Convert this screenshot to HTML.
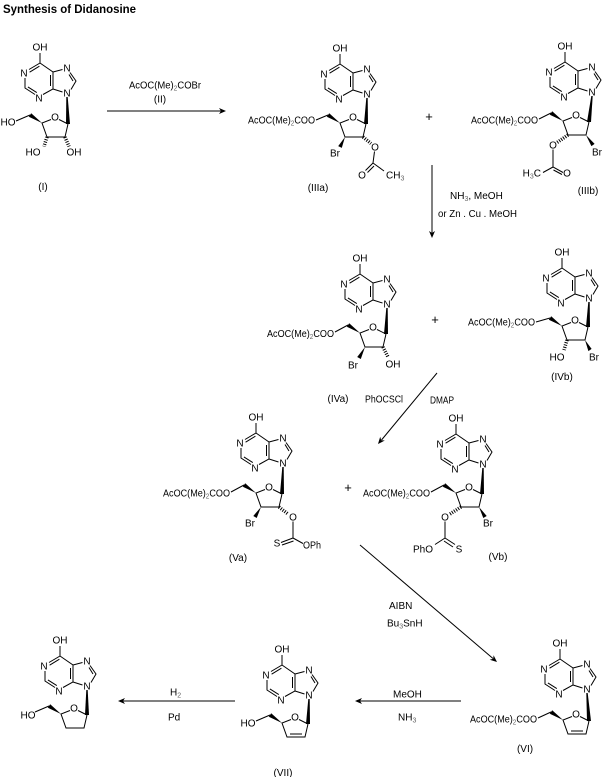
<!DOCTYPE html>
<html><head><meta charset="utf-8"><style>
html,body{margin:0;padding:0;background:#fff}
svg{display:block}
text{font-family:"Liberation Sans",Arial,sans-serif;font-size:10px;text-anchor:middle;fill:#000}
.s{text-anchor:start}.e{text-anchor:end}
path,line{stroke:#000;stroke-width:1;fill:none}
polygon{fill:#000;stroke:none}
.h{stroke-width:3.5;stroke-dasharray:1 1.4}
.sb{font-size:7px;fill:#666}
</style></head><body>
<svg width="609" height="777" viewBox="0 0 609 777" xmlns="http://www.w3.org/2000/svg">
<text x="3" y="13" class="s" style="font-weight:bold;font-size:11.5px" textLength="133" lengthAdjust="spacingAndGlyphs">Synthesis of Didanosine</text>

<!-- ===== I ===== -->
<g transform="translate(40,47)"><text y="3.5">OH</text><path d="M0,6V16L-11,22.5M-15,31V41L-5,47.5M3,47.5L13,42V25L0,16M-0.6,19.2L-10.4,25.2M-12.1,39.9L-3.2,45.6M10.5,28V39M13,25L22.5,22.5M30,25.5L36,34L31,42.5M29,27.5L33,34M22.5,45L13,42"/><text x="-16" y="29.5">N</text><text x="-1" y="54.5">N</text><text x="27" y="24.5">N</text><text x="27" y="49.5">N</text></g>
<g transform="translate(41,47)">
<polygon points="25.3,50 26.7,50 29,77 25,77"/>
<path d="M27,77L18,72.5M10,72.5L1,76L6,90H24L27,77"/><text x="14" y="73.5">O</text><polygon points="1,76 -9.8,66.2 -12.2,69.8"/>
<path d="M-11,68L-25,74"/><text x="-33" y="78.5">HO</text>
<line class="h" x1="6" y1="90" x2="3" y2="99.5"/><text x="-8" y="108.5">HO</text>
<line class="h" x1="24" y1="90" x2="28" y2="99.5"/><text x="33" y="108.5">OH</text>
</g>
<text x="43" y="190">(I)</text>

<!-- arrow 1 -->
<text x="165" y="88.5" textLength="72" lengthAdjust="spacingAndGlyphs">AcOC(Me)<tspan class="sb" dy="2">2</tspan><tspan dy="-2">COBr</tspan></text>
<text x="160" y="102.5">(II)</text>
<line x1="107" y1="111" x2="222" y2="111"/>
<polygon points="226,111 219,108 221,111 219,114"/>

<!-- ===== IIIa ===== -->
<g transform="translate(340,48)"><text y="3.5">OH</text><path d="M0,6V16L-11,22.5M-15,31V41L-5,47.5M3,47.5L13,42V25L0,16M-0.6,19.2L-10.4,25.2M-12.1,39.9L-3.2,45.6M10.5,28V39M13,25L22.5,22.5M30,25.5L36,34L31,42.5M29,27.5L33,34M22.5,45L13,42"/><text x="-16" y="29.5">N</text><text x="-1" y="54.5">N</text><text x="27" y="24.5">N</text><text x="27" y="49.5">N</text></g>
<g transform="translate(339,47)">
<polygon points="27.3,51 28.7,51 29,77 25,77"/>
<path d="M27,77L18,72.5M10,72.5L1,76L6,90H24L27,77"/><text x="14" y="73.5">O</text><polygon points="1,76 -9.8,66.2 -12.2,69.8"/>
<text x="-91" y="76.5" class="s" textLength="67" lengthAdjust="spacingAndGlyphs">AcOC(Me)<tspan class="sb" dy="2">2</tspan><tspan dy="-2">COO</tspan></text>
<path d="M-23,73L-11,68"/>
<polygon points="6,90 2.8,100.9 -0.8,99.1"/><text x="-4" y="109.5">Br</text>
<line class="h" x1="24" y1="90" x2="32" y2="96.5"/><text x="36" y="103.5">O</text>
<path d="M35.5,104.5L34,116L26.5,123.5M35,119L28.5,125.5M34,116L45,124"/>
<text x="23" y="131.5">O</text>
<text x="47" y="131.5" class="s">CH<tspan class="sb" dy="2">3</tspan></text>
</g>
<text x="318" y="191">(IIIa)</text>

<text x="429" y="121" style="font-size:13px">+</text>

<!-- ===== IIIb ===== -->
<g transform="translate(565,46)"><text y="3.5">OH</text><path d="M0,6V16L-11,22.5M-15,31V41L-5,47.5M3,47.5L13,42V25L0,16M-0.6,19.2L-10.4,25.2M-12.1,39.9L-3.2,45.6M10.5,28V39M13,25L22.5,22.5M30,25.5L36,34L31,42.5M29,27.5L33,34M22.5,45L13,42"/><text x="-16" y="29.5">N</text><text x="-1" y="54.5">N</text><text x="27" y="24.5">N</text><text x="27" y="49.5">N</text></g>
<g transform="translate(562,45)">
<polygon points="29.3,51 30.7,51 29,77 25,77"/>
<path d="M27,77L18,72.5M10,72.5L1,76L6,90H24L27,77"/><text x="14" y="73.5">O</text><polygon points="1,76 -9.8,66.2 -12.2,69.8"/>
<text x="-91" y="78.5" class="s" textLength="67" lengthAdjust="spacingAndGlyphs">AcOC(Me)<tspan class="sb" dy="2">2</tspan><tspan dy="-2">COO</tspan></text>
<path d="M-23,74L-11,68"/>
<polygon points="24,90 32.6,98.9 29.4,101.1"/><text x="35" y="110.5">Br</text>
<line class="h" x1="6" y1="90" x2="-5" y2="97.5"/><text x="-9" y="103.5">O</text>
<path d="M-9,104.5V122L1,127.5M-8.5,125L0,129.5M-9,122L-19,127.5"/>
<text x="5" y="131.5">O</text>
<text x="-21" y="131.5" class="e">H<tspan class="sb" dy="2">3</tspan><tspan dy="-2">C</tspan></text>
</g>
<text x="588" y="194">(IIIb)</text>

<!-- arrow 2 -->
<line x1="432" y1="165" x2="432" y2="234"/>
<polygon points="432,238 429,231 432,233 435,231"/>
<text x="450" y="199" class="s">NH<tspan class="sb" dy="2">3</tspan><tspan dy="-2">, MeOH</tspan></text>
<text x="438" y="217" class="s" textLength="79" lengthAdjust="spacingAndGlyphs">or Zn . Cu . MeOH</text>

<!-- ===== IVa ===== -->
<g transform="translate(360,258)"><text y="3.5">OH</text><path d="M0,6V16L-11,22.5M-15,31V41L-5,47.5M3,47.5L13,42V25L0,16M-0.6,19.2L-10.4,25.2M-12.1,39.9L-3.2,45.6M10.5,28V39M13,25L22.5,22.5M30,25.5L36,34L31,42.5M29,27.5L33,34M22.5,45L13,42"/><text x="-16" y="29.5">N</text><text x="-1" y="54.5">N</text><text x="27" y="24.5">N</text><text x="27" y="49.5">N</text></g>
<g transform="translate(359,257)">
<polygon points="27.3,51 28.7,51 29,77 25,77"/>
<path d="M27,77L18,72.5M10,72.5L1,76L6,90H24L27,77"/><text x="14" y="73.5">O</text><polygon points="1,76 -9.8,66.2 -12.2,69.8"/>
<text x="-92" y="80" class="s" textLength="67" lengthAdjust="spacingAndGlyphs">AcOC(Me)<tspan class="sb" dy="2">2</tspan><tspan dy="-2">COO</tspan></text>
<path d="M-24,75L-11,68"/>
<polygon points="6,90 1.8,102 -1.8,100"/><text x="-6" y="111.5">Br</text>
<line class="h" x1="24" y1="90" x2="29" y2="100"/><text x="34" y="110.5">OH</text>
</g>
<text x="338" y="402">(IVa)</text>

<text x="435" y="324" style="font-size:13px">+</text>

<!-- ===== IVb ===== -->
<g transform="translate(562,252)"><text y="3.5">OH</text><path d="M0,6V16L-11,22.5M-15,31V41L-5,47.5M3,47.5L13,42V25L0,16M-0.6,19.2L-10.4,25.2M-12.1,39.9L-3.2,45.6M10.5,28V39M13,25L22.5,22.5M30,25.5L36,34L31,42.5M29,27.5L33,34M22.5,45L13,42"/><text x="-16" y="29.5">N</text><text x="-1" y="54.5">N</text><text x="27" y="24.5">N</text><text x="27" y="49.5">N</text></g>
<g transform="translate(561,250)">
<polygon points="27.3,52 28.7,52 29,77 25,77"/>
<path d="M27,77L18,72.5M10,72.5L1,76L6,90H24L27,77"/><text x="14" y="73.5">O</text><polygon points="1,76 -9.8,66.2 -12.2,69.8"/>
<text x="-93" y="75.5" class="s" textLength="67" lengthAdjust="spacingAndGlyphs">AcOC(Me)<tspan class="sb" dy="2">2</tspan><tspan dy="-2">COO</tspan></text>
<path d="M-25,72L-11,68"/>
<line class="h" x1="6" y1="90" x2="3" y2="100"/><text x="-4" y="110.5">HO</text>
<polygon points="24,90 30.6,98.9 27.4,101.1"/><text x="33" y="110.5">Br</text>
</g>
<text x="562" y="380">(IVb)</text>

<!-- arrow 3 -->
<text x="384" y="402.5" textLength="38" lengthAdjust="spacingAndGlyphs">PhOCSCl</text>
<text x="442" y="403.5" textLength="24" lengthAdjust="spacingAndGlyphs">DMAP</text>
<line x1="437" y1="373" x2="381.5" y2="440"/>
<polygon points="378,444 380.2,436.7 381.2,440.2 384.8,440.5"/>

<!-- ===== Va ===== -->
<g transform="translate(256,417)"><text y="3.5">OH</text><path d="M0,6V16L-11,22.5M-15,31V41L-5,47.5M3,47.5L13,42V25L0,16M-0.6,19.2L-10.4,25.2M-12.1,39.9L-3.2,45.6M10.5,28V39M13,25L22.5,22.5M30,25.5L36,34L31,42.5M29,27.5L33,34M22.5,45L13,42"/><text x="-16" y="29.5">N</text><text x="-1" y="54.5">N</text><text x="27" y="24.5">N</text><text x="27" y="49.5">N</text></g>
<g transform="translate(255,417)">
<polygon points="27.3,50 28.7,50 29,77 25,77"/>
<path d="M27,77L18,72.5M10,72.5L1,76L6,90H24L27,77"/><text x="14" y="73.5">O</text><polygon points="1,76 -9.8,66.2 -12.2,69.8"/>
<text x="-92" y="79.5" class="s" textLength="67" lengthAdjust="spacingAndGlyphs">AcOC(Me)<tspan class="sb" dy="2">2</tspan><tspan dy="-2">COO</tspan></text>
<path d="M-24,75L-11,68"/>
<polygon points="6,90 1.7,101 -1.7,99"/><text x="-5" y="109.5">Br</text>
<line class="h" x1="24" y1="90" x2="33" y2="97"/><text x="38" y="103.5">O</text>
<path d="M38,104.5V121L26,125.5M38.5,124L27,128M38,121L48,126.5"/>
<text x="22" y="129.5">S</text>
<text x="57" y="131.5" textLength="18" lengthAdjust="spacingAndGlyphs">OPh</text>
</g>
<text x="238" y="561">(Va)</text>

<text x="348" y="492" style="font-size:13px">+</text>

<!-- ===== Vb ===== -->
<g transform="translate(456,418)"><text y="3.5">OH</text><path d="M0,6V16L-11,22.5M-15,31V41L-5,47.5M3,47.5L13,42V25L0,16M-0.6,19.2L-10.4,25.2M-12.1,39.9L-3.2,45.6M10.5,28V39M13,25L22.5,22.5M30,25.5L36,34L31,42.5M29,27.5L33,34M22.5,45L13,42"/><text x="-16" y="29.5">N</text><text x="-1" y="54.5">N</text><text x="27" y="24.5">N</text><text x="27" y="49.5">N</text></g>
<g transform="translate(455,417)">
<polygon points="27.3,51 28.7,51 29,77 25,77"/>
<path d="M27,77L18,72.5M10,72.5L1,76L6,90H24L27,77"/><text x="14" y="73.5">O</text><polygon points="1,76 -9.8,66.2 -12.2,69.8"/>
<text x="-92" y="79.5" class="s" textLength="67" lengthAdjust="spacingAndGlyphs">AcOC(Me)<tspan class="sb" dy="2">2</tspan><tspan dy="-2">COO</tspan></text>
<path d="M-24,75L-11,68"/>
<polygon points="24,90 31.7,99 28.3,101"/><text x="33" y="109.5">Br</text>
<line class="h" x1="6" y1="90" x2="-5" y2="97"/><text x="-10" y="103.5">O</text>
<path d="M-10,104.5V121L-20,127.5M-10,121L0,127.5M-11,124L-2,130"/>
<text x="-32" y="135.5">PhO</text>
<text x="4" y="135.5">S</text>
</g>
<text x="498" y="560">(Vb)</text>

<!-- arrow 4 -->
<line x1="360" y1="545" x2="493" y2="658.5"/>
<polygon points="497,662 489.7,659.8 493.2,658.8 493.6,655.2"/>
<text x="389" y="609" class="s">AIBN</text>
<text x="387" y="626.5" class="s">Bu<tspan class="sb" dy="2">3</tspan><tspan dy="-2">SnH</tspan></text>

<!-- ===== VI ===== -->
<g transform="translate(560,643)"><text y="3.5">OH</text><path d="M0,6V16L-11,22.5M-15,31V41L-5,47.5M3,47.5L13,42V25L0,16M-0.6,19.2L-10.4,25.2M-12.1,39.9L-3.2,45.6M10.5,28V39M13,25L22.5,22.5M30,25.5L36,34L31,42.5M29,27.5L33,34M22.5,45L13,42"/><text x="-16" y="29.5">N</text><text x="-1" y="54.5">N</text><text x="27" y="24.5">N</text><text x="27" y="49.5">N</text></g>
<g transform="translate(562,644)">
<polygon points="24.3,49 25.7,49 29,77 25,77"/>
<path d="M27,77L18,72.5M10,72.5L1,76L6,90H24L27,77M9,87H21"/><text x="14" y="73.5">O</text><polygon points="1,76 -9.8,66.2 -12.2,69.8"/>
<text x="-92" y="78.5" class="s" textLength="67" lengthAdjust="spacingAndGlyphs">AcOC(Me)<tspan class="sb" dy="2">2</tspan><tspan dy="-2">COO</tspan></text>
<path d="M-24,74L-11,68"/>
</g>
<text x="525" y="752">(VI)</text>

<!-- arrow 5 -->
<line x1="461" y1="701" x2="359" y2="701"/>
<polygon points="355,701 362,698 360,701 362,704"/>
<text x="393" y="697.5" class="s">MeOH</text>
<text x="398" y="720.5" class="s">NH<tspan class="sb" dy="2">3</tspan></text>

<!-- ===== VII ===== -->
<g transform="translate(282,649)"><text y="3.5">OH</text><path d="M0,6V16L-11,22.5M-15,31V41L-5,47.5M3,47.5L13,42V25L0,16M-0.6,19.2L-10.4,25.2M-12.1,39.9L-3.2,45.6M10.5,28V39M13,25L22.5,22.5M30,25.5L36,34L31,42.5M29,27.5L33,34M22.5,45L13,42"/><text x="-16" y="29.5">N</text><text x="-1" y="54.5">N</text><text x="27" y="24.5">N</text><text x="27" y="49.5">N</text></g>
<g transform="translate(281,647)">
<polygon points="27.3,52 28.7,52 29,77 25,77"/>
<path d="M27,77L18,72.5M10,72.5L1,76L6,90H24L27,77M9,87H21"/><text x="14" y="73.5">O</text><polygon points="1,76 -9.8,66.2 -12.2,69.8"/>
<path d="M-11,68L-25,74"/><text x="-33" y="79.5">HO</text>
</g>
<text x="283" y="776">(VII)</text>

<!-- arrow 6 -->
<line x1="235" y1="701" x2="122" y2="701"/>
<polygon points="118,701 125,698 123,701 125,704"/>
<text x="170" y="695.5" class="s">H<tspan class="sb" dy="2">2</tspan></text>
<text x="168" y="720.5" class="s">Pd</text>

<!-- ===== Didanosine ===== -->
<g transform="translate(60,640)"><text y="3.5">OH</text><path d="M0,6V16L-11,22.5M-15,31V41L-5,47.5M3,47.5L13,42V25L0,16M-0.6,19.2L-10.4,25.2M-12.1,39.9L-3.2,45.6M10.5,28V39M13,25L22.5,22.5M30,25.5L36,34L31,42.5M29,27.5L33,34M22.5,45L13,42"/><text x="-16" y="29.5">N</text><text x="-1" y="54.5">N</text><text x="27" y="24.5">N</text><text x="27" y="49.5">N</text></g>
<g transform="translate(60,638)">
<polygon points="26.3,52 27.7,52 29,77 25,77"/>
<path d="M27,77L18,72.5M10,72.5L1,76L6,90H24L27,77"/><text x="14" y="73.5">O</text><polygon points="1,76 -9.8,66.2 -12.2,69.8"/>
<path d="M-11,68L-25,74"/><text x="-32" y="80.5">HO</text>
</g>
</svg>
</body></html>
